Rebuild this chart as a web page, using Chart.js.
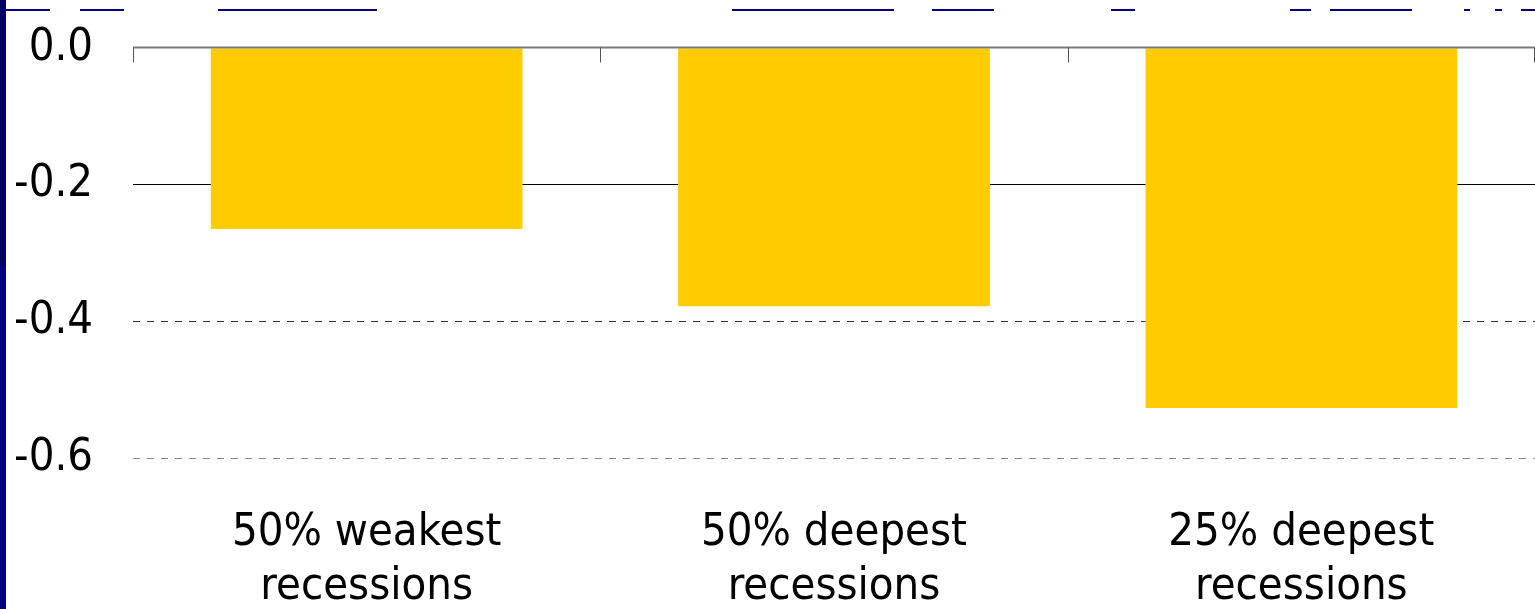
<!DOCTYPE html>
<html>
<head>
<meta charset="utf-8">
<script src="https://cdn.jsdelivr.net/npm/chart.js@4/dist/chart.umd.min.js"></script>
<style>
  html, body { margin: 0; padding: 0; background: #fff; overflow: hidden; }
  #wrap { position: relative; width: 1535px; height: 609px; }
  #strip { position: absolute; left: 0; top: 0; width: 6px; height: 609px;
           background: linear-gradient(#000066 0, #000066 265px, #000080 265px); }
  .link { position: absolute; top: 9px; height: 2px; background: #000080; }
</style>
</head>
<body>
<div id="wrap">
  <canvas id="myChart" width="1535" height="609"></canvas>
  <div id="strip"></div>
</div>
<script>
const categories = [
  ["50% weakest", "recessions"],
  ["50% deepest", "recessions"],
  ["25% deepest", "recessions"],
];
const values = [-0.265, -0.378, -0.527];
const yTicks = [0, -0.2, -0.4, -0.6];

// underlined link pieces along the top edge of the slide
const links = [[6, 50], [80, 124], [218, 377], [732, 894], [932, 994], [1111, 1135],
  [1290, 1311], [1330, 1412], [1464, 1470], [1495, 1502], [1521, 1535]];
links.forEach(([a, b]) => {
  const d = document.createElement("div");
  d.className = "link";
  d.style.left = a + "px";
  d.style.width = (b - a) + "px";
  document.getElementById("wrap").appendChild(d);
});

const font = "'DejaVu Sans Condensed', 'DejaVu Sans', sans-serif";

// zero line with category tick marks hanging down from it
const zeroAxis = {
  id: "zeroAxis",
  afterDatasetsDraw(chart) {
    const { ctx, scales: { x, y } } = chart;
    const y0 = Math.round(y.getPixelForValue(0)) - 0.5;
    ctx.save();
    ctx.strokeStyle = "#7a7a7a";
    ctx.lineWidth = 2;
    ctx.beginPath();
    ctx.moveTo(x.left, y0);
    ctx.lineTo(x.right, y0);
    ctx.stroke();
    ctx.strokeStyle = "#555";
    ctx.lineWidth = 1;
    for (let i = 0; i <= categories.length; i++) {
      let px = Math.round(x.getPixelForValue(i - 0.5)) + 0.5;
      px = Math.min(px, x.right - 0.5);
      ctx.beginPath();
      ctx.moveTo(px, y0);
      ctx.lineTo(px, y0 + 15);
      ctx.stroke();
    }
    ctx.restore();
  },
};

const data = {
  labels: categories,
  datasets: [
    {
      data: values,
      backgroundColor: "#ffcc00",
      borderWidth: 0,
      barPercentage: 0.667,
      categoryPercentage: 1,
    },
  ],
};

const config = {
  type: "bar",
  data: data,
  options: {
    responsive: false,
    animation: false,
    layout: { padding: { top: 48, right: 0, bottom: 0, left: 0 } },
    plugins: { legend: { display: false }, tooltip: { enabled: false } },
    scales: {
      x: {
        grid: { display: false },
        border: { display: false },
        ticks: {
          color: "#000",
          padding: 40,
          maxRotation: 0,
          font: { family: font, size: 45, lineHeight: 1.2 },
        },
        afterFit(scale) {
          scale.height = 151;
          scale.paddingLeft = 0;
          scale.paddingRight = 0;
        },
      },
      y: {
        min: -0.6,
        max: 0,
        afterBuildTicks(scale) { scale.ticks = yTicks.map(v => ({ value: v })); },
        grid: {
          drawTicks: false,
          lineWidth: 1,
          color(c) {
            const v = c.tick ? Math.round(c.tick.value * 10) / 10 : 0;
            if (v === 0) return "rgba(0,0,0,0)";
            if (v === -0.2) return "#000";
            if (v === -0.4) return "#333";
            return "#888";
          },
        },
        border: {
          display: false,
          dash(c) {
            const v = c.tick ? Math.round(c.tick.value * 10) / 10 : 0;
            return v <= -0.4 ? [7, 7] : [];
          },
        },
        ticks: {
          color: "#000",
          padding: 40,
          font: { family: font, size: 45 },
          callback: v => v.toFixed(1),
        },
        afterFit(scale) {
          scale.width = 133;
          scale.paddingTop = 0;
          scale.paddingBottom = 0;
        },
      },
    },
  },
  plugins: [zeroAxis],
};
const myChart = new Chart(document.getElementById("myChart"), config);
</script>
</body>
</html>
